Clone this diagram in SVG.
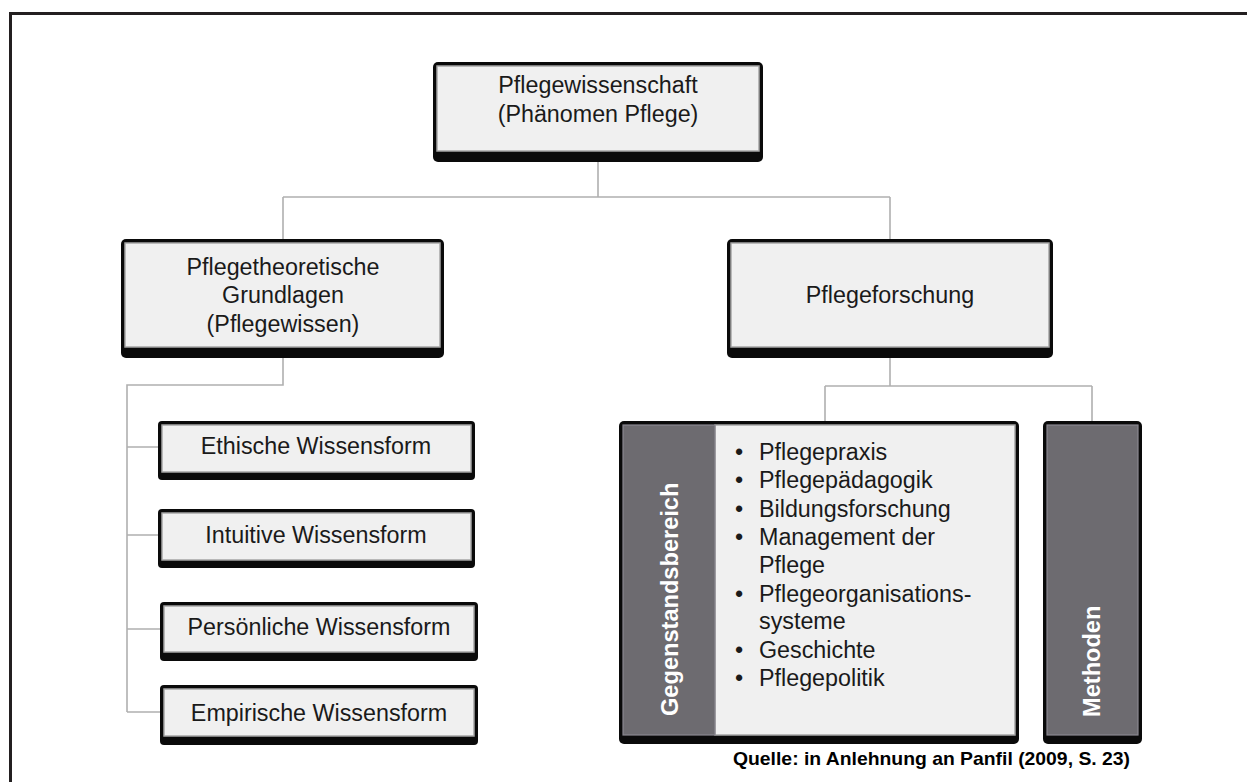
<svg xmlns="http://www.w3.org/2000/svg" width="1247" height="782" viewBox="0 0 1247 782">
<style>
.outer{fill:#0a0a0a}
.in{fill:#f0f0f0;stroke:#a6a6a6;stroke-width:1.5}
.dk{fill:#6d6b70;stroke:#8a8790;stroke-width:1.2}
.t{font-family:"Liberation Sans",Arial,sans-serif;font-size:23.3px;fill:#1a1a1a}
.c{text-anchor:middle}
.w{font-family:"Liberation Sans",Arial,sans-serif;font-size:23.6px;font-weight:bold;fill:#ffffff}
.con{fill:none;stroke:#b0b0b0;stroke-width:1.6}
</style>
<rect width="1247" height="782" fill="#ffffff"/>
<path d="M10.5,782 V13.5 H1247" fill="none" stroke="#231f20" stroke-width="3"/>
<g id="connectors">
<path class="con" d="M598,160 V197 M283,197 H890 M283,197 V241 M890,197 V241"/>
<path class="con" d="M283,356 V385 H127 V712 M127,447 H160 M127,535 H160 M127,629 H162 M127,712 H162"/>
<path class="con" d="M890,356 V386 M825,386 H1092 M825,386 V423 M1092,386 V423"/>
</g>
<g id="n-pflegewissenschaft">
<rect class="outer" x="433" y="62" width="330" height="100" rx="5"/>
<rect class="in" x="437" y="66" width="322" height="85"/>
<text class="t c" x="598" y="93">Pflegewissenschaft</text>
<text class="t c" x="598" y="122">(Phänomen  Pflege)</text>
</g>
<g id="n-grundlagen">
<rect class="outer" x="121" y="239" width="323" height="119" rx="5"/>
<rect class="in" x="125" y="243" width="315" height="104"/>
<text class="t c" x="283" y="275">Pflegetheoretische</text>
<text class="t c" x="283" y="303">Grundlagen</text>
<text class="t c" x="283" y="332">(Pflegewissen)</text>
</g>
<g id="n-pflegeforschung">
<rect class="outer" x="727" y="239" width="326" height="119" rx="5"/>
<rect class="in" x="731" y="243" width="318" height="104"/>
<text class="t c" x="890" y="303">Pflegeforschung</text>
</g>
<g id="n-ethische">
<rect class="outer" x="158" y="421" width="317" height="59" rx="4"/>
<rect class="in" x="162" y="425" width="309" height="47"/>
<text class="t c" x="316" y="454">Ethische Wissensform</text>
</g>
<g id="n-intuitive">
<rect class="outer" x="158" y="509" width="317" height="59" rx="4"/>
<rect class="in" x="162" y="513" width="309" height="47"/>
<text class="t c" x="316" y="543">Intuitive  Wissensform</text>
</g>
<g id="n-persoenliche">
<rect class="outer" x="160" y="602" width="318" height="59" rx="4"/>
<rect class="in" x="164" y="606" width="310" height="46"/>
<text class="t c" x="319" y="635">Persönliche Wissensform</text>
</g>
<g id="n-empirische">
<rect class="outer" x="160" y="685" width="318" height="60" rx="4"/>
<rect class="in" x="164" y="689" width="310" height="47"/>
<text class="t c" x="319" y="721">Empirische Wissensform</text>
</g>
<g id="n-gegenstandsbereich">
<rect class="outer" x="619" y="421" width="400" height="323" rx="5"/>
<rect class="in" x="715" y="425" width="300" height="310"/>
<rect class="dk" x="623" y="425" width="92" height="310"/>
<text class="w" transform="translate(678,716) rotate(-90)">Gegenstandsbereich</text>
<g class="t">
<text x="735" y="460">•</text><text x="759" y="460">Pflegepraxis</text>
<text x="735" y="488">•</text><text x="759" y="488">Pflegepädagogik</text>
<text x="735" y="517">•</text><text x="759" y="517">Bildungsforschung</text>
<text x="735" y="545">•</text><text x="759" y="545">Management  der</text>
<text x="759" y="573">Pflege</text>
<text x="735" y="602">•</text><text x="759" y="602">Pflegeorganisations-</text>
<text x="759" y="629">systeme</text>
<text x="735" y="658">•</text><text x="759" y="658">Geschichte</text>
<text x="735" y="686">•</text><text x="759" y="686">Pflegepolitik</text>
</g>
</g>
<g id="n-methoden">
<rect class="outer" x="1043" y="421" width="99" height="323" rx="5"/>
<rect class="dk" x="1047" y="425" width="91" height="310"/>
<text class="w" transform="translate(1100,717) rotate(-90)">Methoden</text>
</g>
<text x="733" y="765" font-family="Liberation Sans, Arial, sans-serif" font-size="19" font-weight="bold" fill="#000" textLength="397" lengthAdjust="spacingAndGlyphs">Quelle: in Anlehnung  an Panfil (2009, S. 23)</text>
</svg>
